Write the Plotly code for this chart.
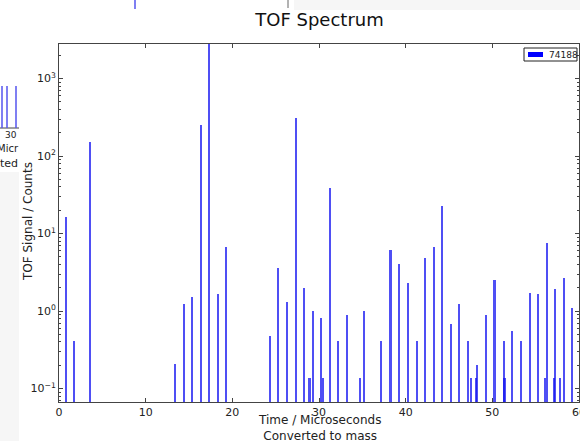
import plotly.graph_objects as go

# Peak positions (converted mass) and their TOF signal counts
mass = [0.85, 1.73, 3.6, 13.4, 14.4, 15.35, 16.35, 17.35, 18.35, 19.3,
        24.3, 25.3, 26.3, 27.3, 28.26, 28.9, 29.26, 30.26, 30.45, 31.26,
        32.2, 33.2, 34.75, 35.2, 37.2, 38.25, 39.2, 40.3, 41.26, 42.26,
        43.26, 44.2, 45.2, 46.2, 47.2, 47.56, 48.1, 48.2, 49.25, 50.25,
        51.3, 51.4, 52.3, 53.3, 54.3, 55.3, 56.1, 56.3, 57.1, 57.25,
        57.8, 58.25, 59.2]
counts = [16.3, 0.41, 151, 0.21, 1.23, 1.5, 253, 3000, 1.64, 6.7,
          0.48, 3.6, 1.3, 308, 1.98, 0.138, 1.0, 0.82, 0.138, 39,
          0.41, 0.89, 0.138, 1.0, 0.41, 6.1, 4.1, 2.3, 0.41, 4.9,
          6.7, 22.8, 0.69, 1.23, 0.41, 0.138, 0.138, 0.2, 0.89, 2.5,
          0.41, 0.138, 0.55, 0.41, 1.72, 1.65, 0.138, 7.6, 0.138, 1.9,
          0.138, 2.67, 1.1]
series_name = "74188"

x_ticks = [0, 10, 20, 30, 40, 50, 60]
y_ticks = [0.1, 1, 10, 100, 1000]
y_tick_labels = ["10<sup>−1</sup>", "10<sup>0</sup>", "10<sup>1</sup>", "10<sup>2</sup>", "10<sup>3</sup>"]
y_minor = [m * 10 ** e for e in range(-2, 4) for m in range(2, 10)]

FONT = "DejaVu Sans"
W, H = 580, 441
L, R, T, B = 59, 1, 44, 39

def px(xp):
    return (xp - L) / (W - L - R)

def py(yp):
    return (H - B - yp) / (H - T - B)

fig = go.Figure()
fig.add_trace(go.Bar(
    x=mass, y=counts, width=0.24, name=series_name,
    marker=dict(color="rgba(20,20,240,0.75)", line=dict(width=0)),
    showlegend=False,
))

axis_common = dict(
    showline=True, linecolor="#444", linewidth=1, mirror="ticks",
    ticks="inside", ticklen=4, tickcolor="#444", showgrid=False, zeroline=False,
    tickfont=dict(family=FONT, size=11, color="#222"),
)
fig.update_xaxes(range=[0, 60], tickvals=x_ticks, **axis_common)
fig.update_yaxes(type="log", range=[-1.174, 3.445], tickvals=y_ticks,
                 ticktext=y_tick_labels,
                 minor=dict(tickvals=y_minor, ticks="inside", ticklen=2, tickcolor="#444"),
                 **axis_common)

shapes = []
annotations = []
# Last x tick label, clipped by the window edge as in the reference
annotations.append(dict(text=str(x_ticks[-1]), xref="x", yref="paper", x=x_ticks[-1], y=py(404),
                        xanchor="center", yanchor="top", showarrow=False,
                        font=dict(family=FONT, size=11, color="#222")))
# Legend box
shapes.append(dict(type="rect", xref="paper", yref="paper",
                   x0=px(524), x1=px(577), y0=py(61), y1=py(48),
                   line=dict(color="#222", width=1), fillcolor="white"))
shapes.append(dict(type="rect", xref="paper", yref="paper",
                   x0=px(528), x1=px(543), y0=py(57), y1=py(52),
                   line=dict(width=0), fillcolor="#0000ff"))
annotations.append(dict(text=series_name, xref="paper", yref="paper",
                        x=px(547), y=py(54.5), xanchor="left", yanchor="middle",
                        showarrow=False, font=dict(family=FONT, size=9, color="#222")))

# Axis titles
annotations.append(dict(text="Time / Microseconds<br>Converted to mass", xref="paper", yref="paper",
                        x=px(319), y=py(428), xanchor="center", yanchor="middle",
                        showarrow=False, font=dict(family=FONT, size=12, color="#222")))
annotations.append(dict(text="TOF Signal / Counts", xref="paper", yref="paper",
                        x=px(28), y=py(222), xanchor="center", yanchor="middle", textangle=-90,
                        showarrow=False, font=dict(family=FONT, size=12, color="#222")))

# Screenshot remnants of neighbouring windows
shapes.append(dict(type="rect", xref="paper", yref="paper", layer="below",
                   x0=px(0), x1=px(19), y0=py(441), y1=py(172),
                   line=dict(width=0), fillcolor="#f6f6f6"))
shapes.append(dict(type="rect", xref="paper", yref="paper", layer="below",
                   x0=px(294), x1=px(580), y0=py(10), y1=py(0),
                   line=dict(width=0), fillcolor="#f6f6f6"))
shapes.append(dict(type="line", xref="paper", yref="paper",
                   x0=px(135), x1=px(135), y0=py(9), y1=py(0),
                   line=dict(color="#5555ee", width=1.5)))
shapes.append(dict(type="line", xref="paper", yref="paper",
                   x0=px(288), x1=px(288), y0=py(8), y1=py(0),
                   line=dict(color="#666", width=1)))
shapes.append(dict(type="line", xref="paper", yref="paper",
                   x0=px(0), x1=px(19), y0=py(128), y1=py(128),
                   line=dict(color="#444", width=1)))
for xp in (2, 7, 16):
    shapes.append(dict(type="line", xref="paper", yref="paper",
                       x0=px(xp), x1=px(xp), y0=py(128), y1=py(86),
                       line=dict(color="#5555ee", width=1.5)))
annotations.append(dict(text="30", xref="paper", yref="paper", x=px(19), y=py(135),
                        xanchor="right", yanchor="middle", showarrow=False,
                        font=dict(family=FONT, size=9, color="#222")))
annotations.append(dict(text="Micr", xref="paper", yref="paper", x=px(21), y=py(148),
                        xanchor="right", yanchor="middle", showarrow=False,
                        font=dict(family=FONT, size=10, color="#222")))
annotations.append(dict(text="ted", xref="paper", yref="paper", x=px(20), y=py(163),
                        xanchor="right", yanchor="middle", showarrow=False,
                        font=dict(family=FONT, size=11, color="#222")))

fig.update_layout(
    width=W, height=H,
    margin=dict(l=L, r=R, t=T, b=B),
    paper_bgcolor="white", plot_bgcolor="white",
    title=dict(text="TOF Spectrum", x=319.5 / W,
               xanchor="center", y=1 - 20 / H, yanchor="middle",
               font=dict(family=FONT, size=18, color="#111")),
    shapes=shapes, annotations=annotations,
    bargap=0, showlegend=False,
)

fig.write_html("out.html", config={"displayModeBar": False},
               post_script="document.body.style.margin='0';document.body.style.overflow='hidden';")
